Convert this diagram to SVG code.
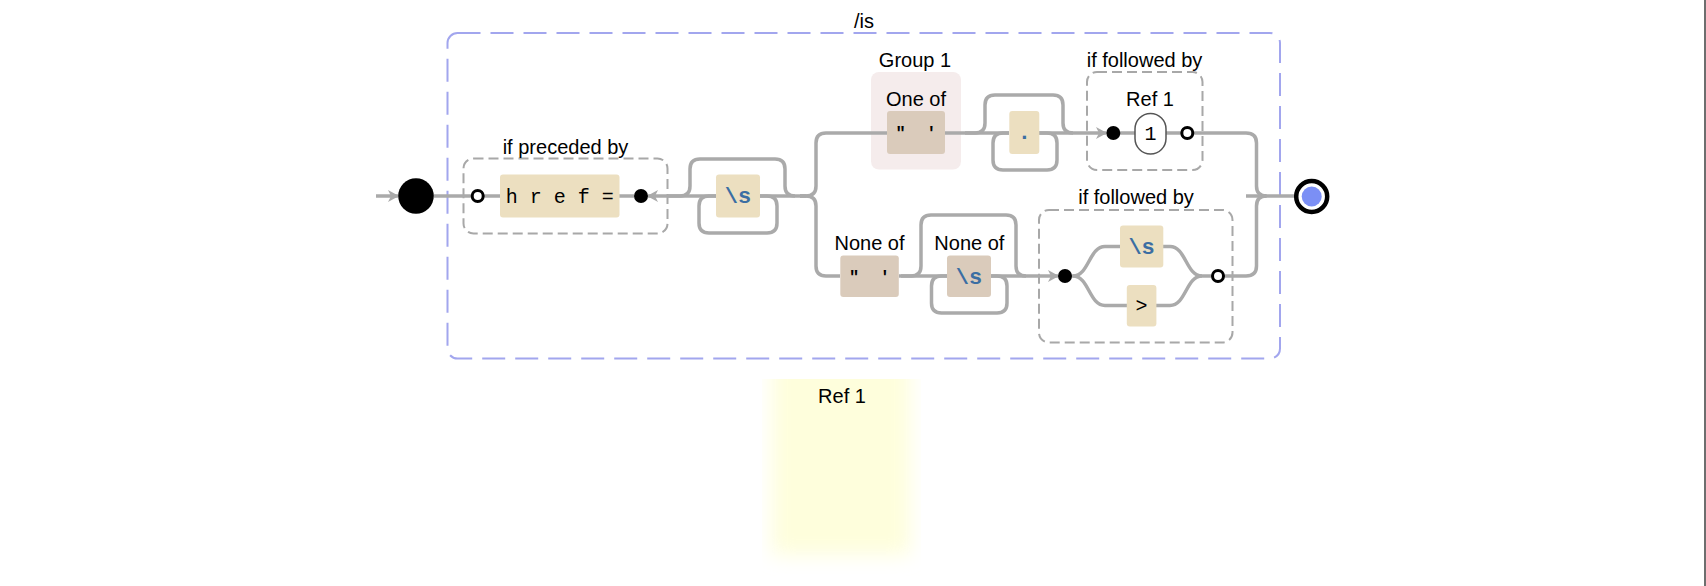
<svg xmlns="http://www.w3.org/2000/svg" width="1706" height="586" viewBox="0 0 1706 586">
<style>
.lbl{font-family:"Liberation Sans",Arial,sans-serif;font-size:20px;fill:#000;text-anchor:middle}
.mono{font-family:"Liberation Mono","Courier New",monospace;font-size:20px;fill:#000;text-anchor:middle}
.esc{font-family:"Liberation Mono","Courier New",monospace;font-size:22px;font-weight:bold;fill:#3b6ea3;text-anchor:middle}
.qt{font-family:"Liberation Mono","Courier New",monospace;font-size:17px;font-weight:bold;fill:#000;text-anchor:middle}
.lit{fill:#ecdfc0}
.cs{fill:#dacbbb}
.look{fill:none;stroke:#a8a8a8;stroke-width:2;stroke-dasharray:10 5}
.wire{fill:none;stroke:#aaaaaa;stroke-width:3.5}
.arw{fill:none;stroke:#aaaaaa;stroke-width:3.5;marker-end:url(#ah)}
.dot{fill:#000}
.ring{fill:#fff;stroke:#000;stroke-width:3}
</style>
<defs>
<marker id="ah" markerUnits="userSpaceOnUse" markerWidth="14" markerHeight="14" refX="10" refY="6" orient="auto">
<path d="M0,0 L11,6 L0,12 L3,6 Z" fill="#aaaaaa"/>
</marker>
<filter id="blur" filterUnits="userSpaceOnUse" x="762" y="379" width="159" height="197">
<feGaussianBlur stdDeviation="10"/>
</filter>
</defs>
<rect width="1706" height="586" fill="#fff"/>
<rect x="1704" y="0" width="2" height="586" fill="#6e6e6e"/>

<g id="ref1-legend">
<rect x="772" y="355" width="138" height="200" fill="#fefedc" filter="url(#blur)"/>
<text class="lbl" x="842" y="403">Ref 1</text>
</g>

<g id="regex-box">
<rect x="447.5" y="33" width="832.5" height="325.5" rx="10" fill="none" stroke="#a2a6ee" stroke-width="2" stroke-dasharray="23 10"/>
<text class="lbl" x="864" y="28">/is</text>
</g>

<g id="group1">
<rect x="871" y="72" width="90" height="97.5" rx="8" fill="#f5ecec"/>
<text class="lbl" x="915" y="67">Group 1</text>
</g>

<g id="lookbehind">
<rect class="look" x="463.5" y="158.5" width="204" height="75" rx="10"/>
<text class="lbl" x="565.5" y="154">if preceded by</text>
</g>
<g id="lookahead1">
<rect class="look" x="1087" y="72" width="115.5" height="98" rx="10"/>
<text class="lbl" x="1144.5" y="67">if followed by</text>
</g>
<g id="lookahead2">
<rect class="look" x="1039" y="210" width="193.5" height="132.5" rx="10"/>
<text class="lbl" x="1136" y="204">if followed by</text>
</g>

<g id="connectors">
<path class="arw" d="M376 196 H398"/>
<path class="wire" d="M434 196 H472"/>
<path class="wire" d="M483 196 H500"/>
<path class="wire" d="M619 196 H634"/>
<path class="arw" d="M716 196 H648"/>
<path class="wire" d="M668 196 H680 Q690 196 690 186 V169 Q690 159 700 159 H775 Q785 159 785 169 V186 Q785 196 795 196"/>
<path class="wire" d="M760 196 H767 Q777 196 777 206 V223 Q777 233 767 233 H709 Q699 233 699 223 V206 Q699 196 709 196 H716"/>
<path class="wire" d="M760 196 H806"/>
<path class="wire" d="M800 196 H806 Q816 196 816 186 V143 Q816 133 826 133 H887"/>
<path class="wire" d="M800 196 H806 Q816 196 816 206 V266 Q816 276 826 276 H840"/>
<path class="wire" d="M945 133 H1009"/>
<path class="wire" d="M965 133 H975 Q985 133 985 123 V105 Q985 95 995 95 H1053 Q1063 95 1063 105 V123 Q1063 133 1073 133"/>
<path class="wire" d="M1039 133 H1047 Q1057 133 1057 143 V160 Q1057 170 1047 170 H1003 Q993 170 993 160 V143 Q993 133 1003 133 H1009"/>
<path class="arw" d="M1039 133 H1106"/>
<path class="wire" d="M1113 133 H1135"/>
<path class="wire" d="M1166 133 H1182"/>
<path class="wire" d="M1193 133 H1246 Q1256.5 133 1256.5 143 V186 Q1256.5 196 1266.5 196"/>
<path class="wire" d="M1246 196 H1295"/>
<path class="wire" d="M899 276 H947"/>
<path class="wire" d="M901 276 H911 Q921 276 921 266 V225 Q921 215 931 215 H1006 Q1016 215 1016 225 V266 Q1016 276 1026 276"/>
<path class="wire" d="M991 276 H997 Q1007 276 1007 286 V303 Q1007 313 997 313 H941.5 Q931.5 313 931.5 303 V286 Q931.5 276 941.5 276 H947"/>
<path class="arw" d="M991 276 H1058"/>
<path class="wire" d="M1065 276 H1073 C1089 276 1089 246.5 1105 246.5 H1120"/>
<path class="wire" d="M1073 276 C1089 276 1089 305.5 1105 305.5 H1127"/>
<path class="wire" d="M1163 246.5 H1170 C1186 246.5 1186 276 1202 276 H1213"/>
<path class="wire" d="M1156 305.5 H1170 C1186 305.5 1186 276 1202 276"/>
<path class="wire" d="M1223 276 H1246 Q1256.5 276 1256.5 266 V206 Q1256.5 196 1266.5 196"/>
</g>

<g id="start"><circle cx="416" cy="196" r="17.8" fill="#000"/></g>
<g id="lb-in"><circle class="ring" cx="477.7" cy="196" r="5.5"/></g>
<g id="lit-href">
<rect class="lit" x="500" y="174.5" width="119.5" height="43" rx="3"/>
<text class="mono" x="559.7" y="203" xml:space="preserve">h r e f =</text>
</g>
<g id="lb-out"><circle class="dot" cx="641" cy="196" r="7"/></g>
<g id="ws1">
<rect class="lit" x="716" y="174.5" width="44" height="43" rx="3"/>
<text class="esc" x="738" y="203">\s</text>
</g>
<g id="oneof">
<text class="lbl" x="916" y="106">One of</text>
<rect class="cs" x="887" y="111" width="58" height="43" rx="3"/>
<text class="qt" x="916" y="138" xml:space="preserve">"  '</text>
</g>
<g id="anychar">
<rect class="lit" x="1009.3" y="111" width="30" height="43" rx="3"/>
<text class="esc" x="1024.3" y="139">.</text>
</g>
<g id="la1-in"><circle class="dot" cx="1113.3" cy="133" r="7"/></g>
<g id="backref1">
<text class="lbl" x="1150" y="106">Ref 1</text>
<rect x="1135" y="113.5" width="31" height="40.5" rx="15.5" fill="#fff" stroke="#555" stroke-width="1.5"/>
<text class="mono" x="1150.5" y="140">1</text>
</g>
<g id="la1-out"><circle class="ring" cx="1187.3" cy="133" r="5.5"/></g>
<g id="noneof1">
<text class="lbl" x="869.5" y="250">None of</text>
<rect class="cs" x="840.3" y="255.5" width="58.5" height="41.5" rx="3"/>
<text class="qt" x="869.5" y="282" xml:space="preserve">"  '</text>
</g>
<g id="noneof2">
<text class="lbl" x="969.4" y="250">None of</text>
<rect class="cs" x="947" y="255.5" width="44" height="41.5" rx="3"/>
<text class="esc" x="969" y="284">\s</text>
</g>
<g id="la2-in"><circle class="dot" cx="1065" cy="276" r="7"/></g>
<g id="ws2">
<rect class="lit" x="1120" y="225.5" width="43.3" height="42" rx="3"/>
<text class="esc" x="1141.6" y="254">\s</text>
</g>
<g id="gt">
<rect class="lit" x="1126.8" y="285" width="29.6" height="41.5" rx="3"/>
<text class="mono" x="1141.6" y="312">&gt;</text>
</g>
<g id="la2-out"><circle class="ring" cx="1218" cy="276" r="5.5"/></g>
<g id="end">
<circle cx="1311.7" cy="196.5" r="15.5" fill="#fff" stroke="#000" stroke-width="4.5"/>
<circle cx="1311.7" cy="196.5" r="10" fill="#7b8ff5"/>
</g>
</svg>
